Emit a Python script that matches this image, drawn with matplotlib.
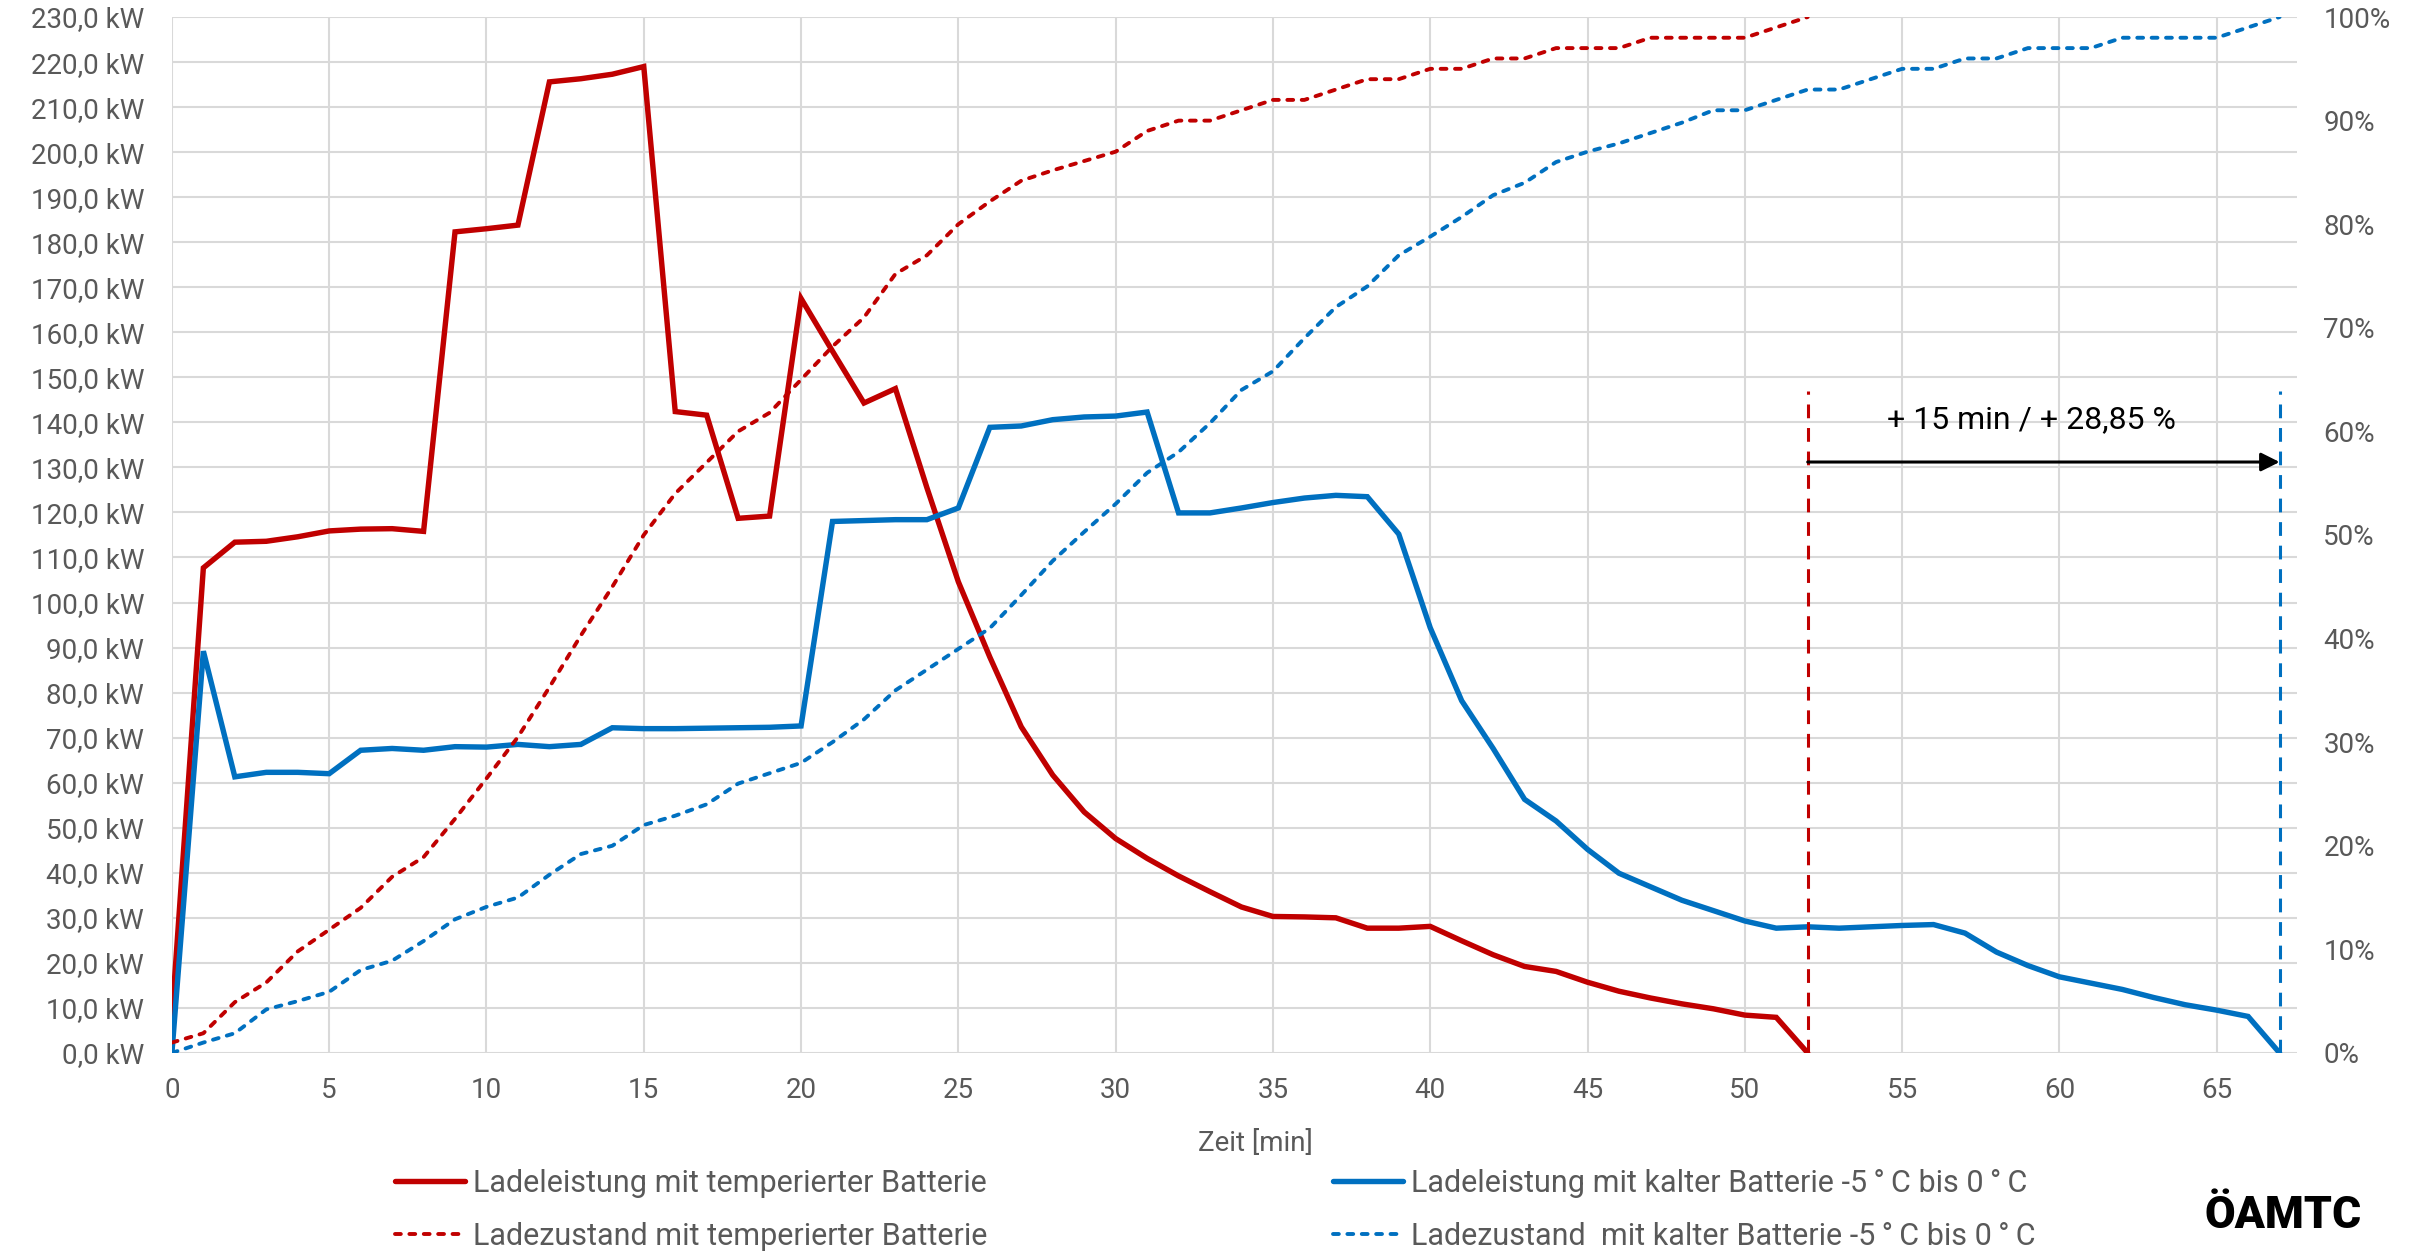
import matplotlib
matplotlib.use("Agg")
import matplotlib.pyplot as plt
from matplotlib import font_manager
from matplotlib.ticker import FuncFormatter, MultipleLocator

# minutes
minutes_warm = list(range(0, 53))
minutes_cold = list(range(0, 68))

# Ladeleistung [kW]
power_warm = [8, 107.7, 113.4, 113.6, 114.6, 115.9, 116.3, 116.4, 115.8, 182.3,
              183, 183.8, 215.6, 216.3, 217.3, 219, 142.4, 141.6, 118.7, 119.2,
              167.5, 155.8, 144.3, 147.5, 125.5, 104.6, 87.9, 72.4, 61.7, 53.5,
              47.6, 43.2, 39.3, 35.8, 32.4, 30.3, 30.2, 30, 27.7, 27.7,
              28.1, 24.9, 21.8, 19.2, 18.1, 15.7, 13.7, 12.2, 10.9, 9.8,
              8.4, 7.9, 0]
power_cold = [0, 89.2, 61.3, 62.3, 62.3, 62, 67.2, 67.6, 67.2, 68,
              67.9, 68.5, 68, 68.5, 72.2, 72, 72, 72.1, 72.2, 72.3,
              72.6, 118, 118.2, 118.4, 118.4, 121, 138.9, 139.2, 140.6, 141.2,
              141.4, 142.3, 119.9, 119.9, 121, 122.2, 123.2, 123.8, 123.5, 115.2,
              94.4, 78.2, 67.6, 56.3, 51.5, 45.2, 39.9, 36.9, 33.9, 31.6,
              29.3, 27.7, 28, 27.7, 28, 28.3, 28.5, 26.6, 22.4, 19.4,
              16.9, 15.5, 14.1, 12.3, 10.7, 9.5, 8.1, 0]

# Ladezustand [%]
soc_warm = [1, 1.9, 4.9, 6.8, 9.8, 11.9, 14, 17, 18.9, 22.6,
            26.5, 30.5, 35.3, 40.3, 45, 50, 54, 57, 60, 61.8,
            65, 68.2, 71, 75.2, 77, 80, 82.2, 84.2, 85.2, 86.1,
            87, 89, 90, 90, 91, 92, 92, 93, 94, 94,
            95, 95, 96, 96, 97, 97, 97, 98, 98, 98,
            98, 99, 100]
soc_cold = [0, 1, 1.9, 4.2, 5, 5.9, 8, 8.9, 10.8, 12.9,
            14.1, 15, 17.2, 19.2, 20, 22, 22.9, 24, 26, 27,
            28, 30, 32.2, 35, 37, 39, 41, 44.2, 47.5, 50.3,
            53, 56, 58, 60.8, 64, 65.8, 69, 72, 74, 77,
            78.8, 80.7, 82.8, 84, 86, 87, 87.8, 88.8, 89.8, 91,
            91, 92, 93, 93, 94, 95, 95, 96, 96, 97,
            97, 97, 98, 98, 98, 98, 99, 100]

labels = ["Ladeleistung mit temperierter Batterie",
          "Ladezustand mit temperierter Batterie",
          "Ladeleistung mit kalter Batterie -5\u2009\u00b0\u2009C bis 0\u2009\u00b0\u2009C",
          "Ladezustand  mit kalter Batterie -5\u2009\u00b0\u2009C bis 0\u2009\u00b0\u2009C"]

end_warm, end_cold = 52, 67
marker_top = 147
arrow_y = 131.2
note = "+ 15 min / + 28,85 %"

RED = "#C00000"
BLUE = "#0070C0"
GREY = "#595959"

names = {f.name for f in font_manager.fontManager.ttflist}
main_font = "Roboto" if "Roboto" in names else "DejaVu Sans"
plt.rcParams["font.family"] = [main_font, "DejaVu Sans"]
FS = 20

fig = plt.figure(figsize=(24.28, 12.52), dpi=100)
ax = fig.add_axes([0.0708, 0.159, 0.8752, 0.8274])
ax2 = ax.twinx()

h_pw, = ax.plot(minutes_warm, power_warm, color=RED, lw=3.9, solid_joinstyle="miter",
                solid_capstyle="round", zorder=3)
h_pc, = ax.plot(minutes_cold, power_cold, color=BLUE, lw=3.9, solid_joinstyle="miter",
                solid_capstyle="round", zorder=3)
h_sw, = ax2.plot(minutes_warm, soc_warm, color=RED, lw=2.8, dashes=(1.5, 2.2),
                 dash_capstyle="round")
h_sc, = ax2.plot(minutes_cold, soc_cold, color=BLUE, lw=2.8, dashes=(1.5, 2.2),
                 dash_capstyle="round")

# annotation
ax.plot([end_warm, end_warm], [0, marker_top], color=RED, lw=2.2, dashes=(4.5, 3.2), zorder=4)
ax.plot([end_cold, end_cold], [0, marker_top], color=BLUE, lw=2.2, dashes=(4.5, 3.2), zorder=4)
ax.annotate("", xy=(end_cold, arrow_y), xytext=(end_warm, arrow_y),
            arrowprops=dict(arrowstyle="-|>", color="black", lw=2.2,
                            mutation_scale=28, shrinkA=0, shrinkB=0), zorder=5)
ax.text((end_warm + end_cold) / 2 - 0.4, 140.6, note, ha="center", va="center",
        fontsize=23, color="black")

ax.set_xlim(0, 67.55)
ax.set_ylim(0, 230)
ax2.set_ylim(0, 100)
ax.xaxis.set_major_locator(MultipleLocator(5))
ax.yaxis.set_major_locator(MultipleLocator(10))
ax2.yaxis.set_major_locator(MultipleLocator(10))
ax.yaxis.set_major_formatter(FuncFormatter(lambda v, p: f"{v:.1f}".replace(".", ",") + " kW"))
ax2.yaxis.set_major_formatter(FuncFormatter(lambda v, p: f"{v:.0f}%"))

ax.grid(True, color="#D9D9D9", lw=1.5)
ax.set_axisbelow(True)
for a in (ax, ax2):
    for s in a.spines.values():
        s.set_visible(False)
ax.tick_params(axis="both", length=0, labelsize=FS, labelcolor=GREY)
ax.tick_params(axis="y", pad=20)
ax.tick_params(axis="x", pad=17)
ax2.tick_params(axis="y", length=0, labelsize=FS, labelcolor=GREY, pad=19)
ax.set_xlabel("Zeit [min]", fontsize=FS, color=GREY, labelpad=19)
ax.xaxis.label.set_x(0.51)

leg = fig.legend([h_pw, h_sw, h_pc, h_sc], labels, ncol=2, loc="upper left",
                 bbox_to_anchor=(0.1627, 0.0665), frameon=False, fontsize=22,
                 labelcolor=GREY, handlelength=2.3, handletextpad=0.25,
                 columnspacing=11.3, labelspacing=0.8, borderpad=0, borderaxespad=0)

fig.text(2205 / 2428, 1 - 1228 / 1252, "\u00d6AMTC", fontsize=32, fontweight="black",
         color="black", ha="left", va="baseline")

fig.savefig("out.png", dpi=100)
